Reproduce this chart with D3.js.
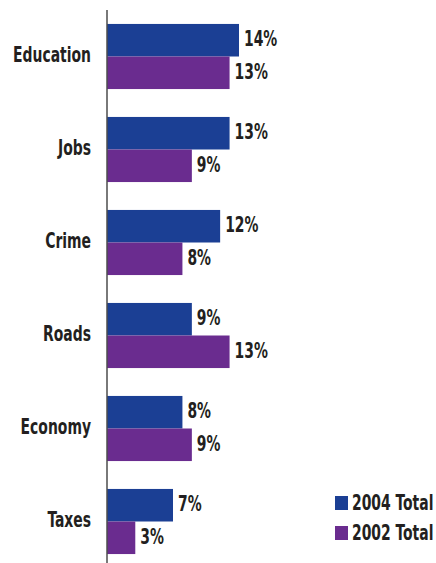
<!DOCTYPE html>
<html>
<head>
<meta charset="utf-8">
<script src="https://cdn.jsdelivr.net/npm/d3@7"></script>
<style>
  html, body { margin: 0; padding: 0; background: #fff; }
  svg text { font-family: "DejaVu Sans Condensed", "DejaVu Sans", sans-serif; font-weight: bold; fill: #231f20; }
</style>
</head>
<body>
<svg id="chart" width="436" height="563"></svg>
<script>
const categories = ["Education", "Jobs", "Crime", "Roads", "Economy", "Taxes"];
const seriesNames = ["2004 Total", "2002 Total"];
const values2004 = [14, 13, 12, 9, 8, 7];
const values2002 = [13, 9, 8, 13, 9, 3];
const colors = ["#1b3f94", "#6a2c8f"];

const fontSize = 22;
const svg = d3.select("#chart");

const x = d3.scaleLinear().domain([0, 14]).range([107, 239]);
const y = d3.scaleBand().domain(categories).range([10, 568]).paddingInner(0.3).paddingOuter(0.15);
const ySub = d3.scaleBand().domain(seriesNames).range([0, y.bandwidth()]);

const rows = categories.map((c, i) => ({ cat: c, vals: [values2004[i], values2002[i]] }));

const groups = svg.selectAll("g.row").data(rows).join("g")
  .attr("class", "row")
  .attr("transform", d => `translate(0,${y(d.cat)})`);

groups.selectAll("rect").data(d => d.vals.map((v, j) => ({ v, s: seriesNames[j], j }))).join("rect")
  .attr("x", x(0))
  .attr("y", d => ySub(d.s))
  .attr("width", d => x(d.v) - x(0))
  .attr("height", ySub.bandwidth())
  .attr("fill", d => colors[d.j]);

groups.selectAll("text.val").data(d => d.vals.map((v, j) => ({ v, s: seriesNames[j] }))).join("text")
  .attr("class", "val")
  .attr("x", d => x(d.v) + 5)
  .attr("y", d => ySub(d.s) + ySub.bandwidth() / 2 + 6)
  .attr("font-size", fontSize)
  .text(d => d.v + "%");

// category labels
const catAxis = svg.append("g")
  .attr("transform", "translate(107,0)")
  .call(d3.axisLeft(y).tickSize(0).tickPadding(16))
  .call(g => g.select(".domain").remove());
catAxis.selectAll("text")
  .attr("font-size", fontSize)
  .attr("fill", "#231f20")
  .attr("dy", null)
  .attr("y", 5);

// baseline
svg.append("line")
  .attr("x1", x(0)).attr("x2", x(0))
  .attr("y1", 10).attr("y2", 563)
  .attr("stroke", "#4d4d4d").attr("stroke-width", 1.5);

// legend
const legend = svg.append("g").selectAll("g").data(seriesNames).join("g")
  .attr("transform", (d, i) => `translate(335,${496 + i * 30})`);
legend.append("rect").attr("width", 13).attr("height", 14).attr("fill", (d, i) => colors[i]);
legend.append("text").attr("x", 17).attr("y", 14).attr("font-size", fontSize).text(d => d);

// condense all labels horizontally around their anchor point
const ref = catAxis.selectAll("text").filter(d => d === "Education").node().getComputedTextLength();
const k = 78 / ref;
svg.selectAll("text").each(function () {
  const ax = +this.getAttribute("x") || 0;
  d3.select(this).attr("transform", `translate(${ax * (1 - k)},0) scale(${k},1)`);
});
</script>
</body>
</html>
